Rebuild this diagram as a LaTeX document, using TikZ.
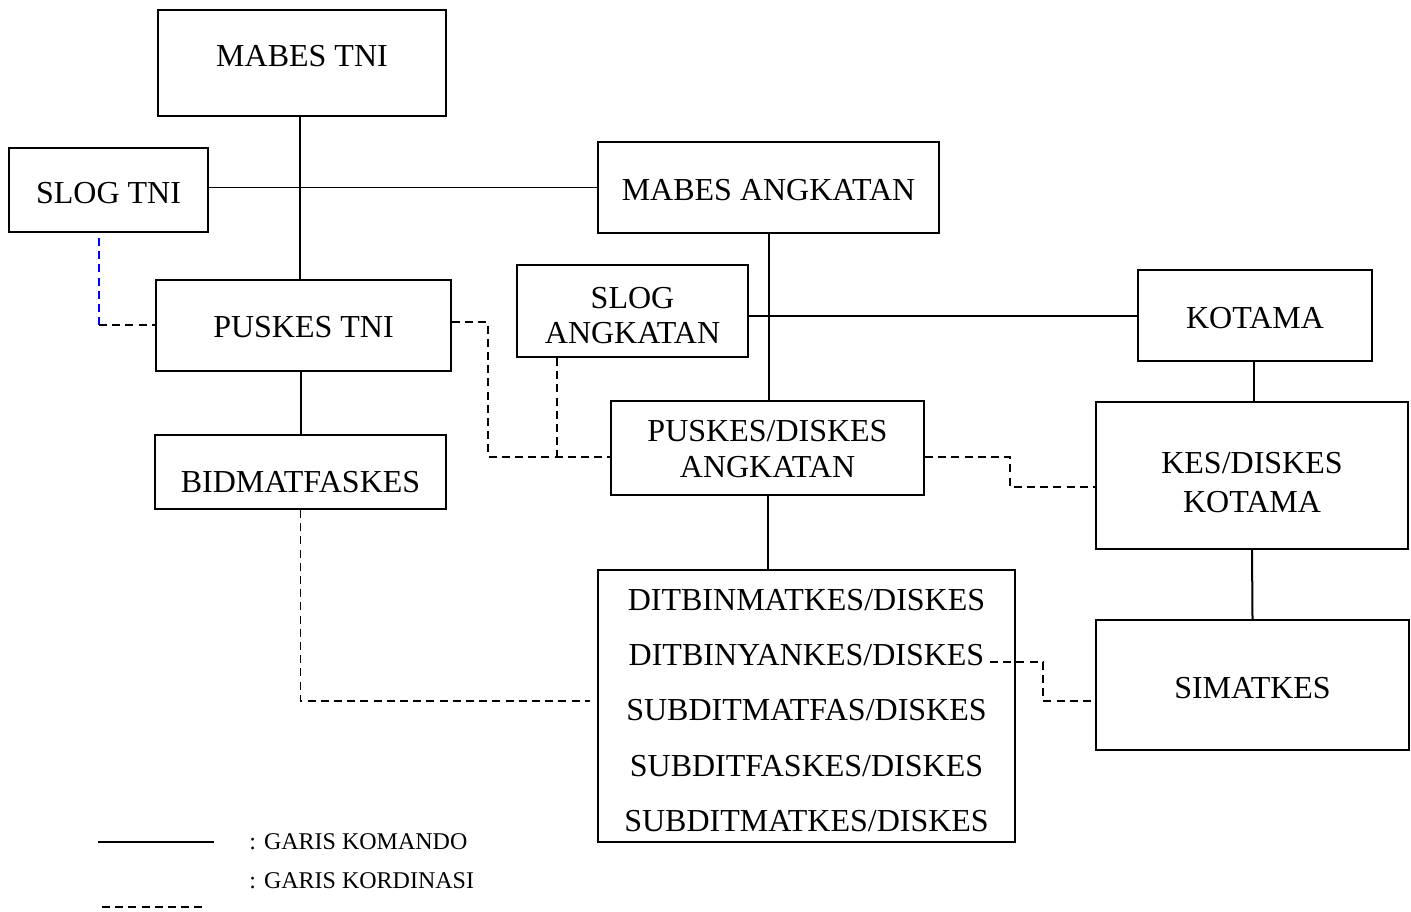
\documentclass[tikz,border=0pt]{standalone}
\usepackage{fontspec}
\setmainfont{Liberation Serif}
\newcommand{\lift}[1]{\rule{0pt}{#1}}
\begin{document}
\begin{tikzpicture}[x=0.5pt,y=-0.5pt,
 box/.style 2 args={draw,line width=1pt,inner sep=0pt,minimum width=#1*0.5pt,minimum height=#2*0.5pt,align=center,font=\fontsize{16}{18}\selectfont},
 th/.style 2 args={text height=#1, text depth=#2},
 cmd/.style={line width=1pt},
 thin/.style={line width=0.5pt},
 crd/.style={line width=0.9pt,dash pattern=on 4pt off 2.6pt},
 leg/.style={anchor=base west,inner sep=0pt,font=\fontsize{12}{14}\selectfont},
]
\useasboundingbox (0,0) rectangle (1411,911);

\node[box={288}{106}, th={10.6pt}{7pt}] (mabestni) at (302,63) {MABES TNI};
\node[box={199}{84}, th={13.8pt}{0.2pt}] (slogtni) at (108.5,190) {SLOG TNI};
\node[box={341}{91}, th={12.8pt}{0.2pt}] (mabesang) at (768.5,187.5) {MABES ANGKATAN};
\node[box={295}{91}, th={11.8pt}{0.2pt}] (puskestni) at (303.5,325.5) {PUSKES TNI};
\node[box={231}{92}, font=\fontsize{16}{17.5}\selectfont] (slogang) at (632.5,311) {\lift{14.8pt}SLOG\\ANGKATAN};
\node[box={234}{91}, th={12.8pt}{0.2pt}] (kotama) at (1255,315.5) {KOTAMA};
\node[box={313}{94}, font=\fontsize{16}{18}\selectfont] (puskesang) at (767.5,448) {\lift{12pt}PUSKES/DISKES\\ANGKATAN};
\node[box={291}{74}, th={20.6pt}{0pt}] (bidmat) at (300.5,472) {BIDMATFASKES};
\node[box={312}{147}, font=\fontsize{16}{19.5}\selectfont] (keskotama) at (1252,475.5) {\lift{18pt}KES/DISKES\\KOTAMA};
\node[box={417}{272}, font=\fontsize{16}{27.6}\selectfont] (dit) at (806.5,706) {\lift{15pt}DITBINMATKES/DISKES\\DITBINYANKES/DISKES\\SUBDITMATFAS/DISKES\\SUBDITFASKES/DISKES\\SUBDITMATKES/DISKES};
\node[box={313}{130}, th={13.8pt}{0.2pt}] (simatkes) at (1252.5,685) {SIMATKES};

% command lines
\draw[cmd] (mabestni.south -| 300,0) -- (puskestni.north -| 300,0);
\draw[thin] (slogtni.east |- mabesang.west) -- (mabesang.west);
\draw[cmd] (mabesang.south) -- (mabesang.south |- puskesang.north);
\draw[cmd] (slogang.east |- kotama.west) -- (kotama.west);
\draw[cmd] (kotama.south -| 1254,0) -- (keskotama.north -| 1254,0);
\draw[cmd] (bidmat.north |- puskestni.south) -- (bidmat.north);
\draw[cmd] (puskesang.south -| 768,0) -- (dit.north -| 768,0);
\draw[cmd] (keskotama.south) -- (simatkes.north);

% coordination lines
\coordinate (b1) at (99,238);
\coordinate (b2) at (99,325);
\draw[crd, blue] (b1) -- (b2);
\draw[crd] (b2) -- (puskestni.west |- b2);
\draw[crd] (puskestni.east |- 0,322) -- (488,322) -- (488,457) -- (puskesang.west |- 0,457);
\draw[crd] (slogang.south -| 557,0) -- (557,457);
\draw[crd] (puskesang.east |- 0,457) -- (1010,457) -- (1010,487) -- (keskotama.west |- 0,487);
\coordinate (d1) at (590,701);
\draw[crd] (bidmat.south) -- (bidmat.south |- d1) -- (d1);
\coordinate (d2) at (990,662);
\draw[crd] (d2) -- (1043,662) -- (1043,701) -- (simatkes.west |- 0,701);

% legend
\coordinate (l1) at (98,842);
\coordinate (l2) at (214,842);
\draw[cmd] (l1) -- (l2);
\coordinate (l3) at (102,907);
\coordinate (l4) at (206,907);
\draw[crd] (l3) -- (l4);
\node[leg] (legk) at (249,849) {: GARIS KOMANDO};
\node[leg] (legr) at (249,888) {: GARIS KORDINASI};
\end{tikzpicture}
\end{document}
